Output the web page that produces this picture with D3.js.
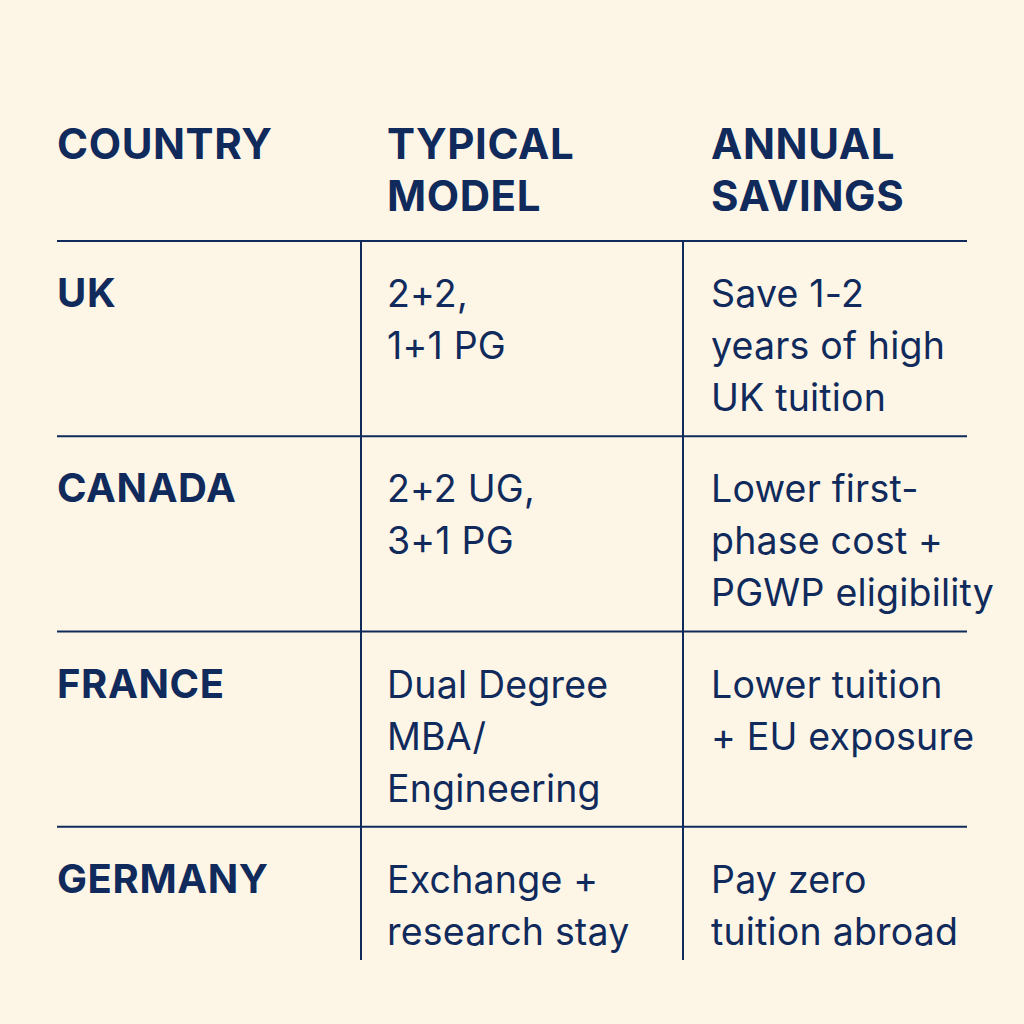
<!DOCTYPE html>
<html lang="en">
<head>
<meta charset="UTF-8">
<title>Twinning models</title>
<script src="https://cdn.jsdelivr.net/npm/d3@7"></script>
<style>
  body { margin: 0; background: #fdf6e7; }
  svg { display: block; }
</style>
</head>
<body>
<div id="chart"></div>
<script>
var headers = [["COUNTRY"], ["TYPICAL", "MODEL"], ["ANNUAL", "SAVINGS"]];
var countries = ["UK", "CANADA", "FRANCE", "GERMANY"];
var models = [["2+2,", "1+1 PG"], ["2+2 UG,", "3+1 PG"], ["Dual Degree", "MBA/", "Engineering"], ["Exchange +", "research stay"]];
var savings = [["Save 1-2", "years of high", "UK tuition"], ["Lower first-", "phase cost +", "PGWP eligibility"], ["Lower tuition", "+ EU exposure"], ["Pay zero", "tuition abroad"]];

var W = 1024, H = 1024, ink = "#102a5c";
var svg = d3.select("#chart").append("svg").attr("width", W).attr("height", H);
svg.append("rect").attr("width", W).attr("height", H).attr("fill", "#fdf6e7");

var colX = d3.scaleOrdinal().domain([0, 1, 2]).range([57, 387, 711]);
var rowY = d3.scaleBand().domain(d3.range(countries.length)).range([241, 1022]);
var lineH = 52;

// header
headers.forEach(function(h, c) {
  var t = svg.append("text").attr("x", colX(c)).attr("y", 159)
    .attr("font-family", "Inter, sans-serif").attr("font-weight", 700)
    .attr("font-size", 42).attr("letter-spacing", 0.6).attr("fill", ink);
  h.forEach(function(s, i) { t.append("tspan").attr("x", colX(c)).attr("dy", i ? lineH : 0).text(s); });
});

// horizontal rules
svg.selectAll("line.h").data(d3.range(countries.length)).enter().append("line")
  .attr("x1", 57).attr("x2", 967)
  .attr("y1", function(d) { return rowY(d); }).attr("y2", function(d) { return rowY(d); })
  .attr("stroke", ink).attr("stroke-width", 2);

// vertical rules
svg.selectAll("line.v").data([361, 683]).enter().append("line")
  .attr("x1", function(d) { return d; }).attr("x2", function(d) { return d; })
  .attr("y1", 241).attr("y2", 960).attr("stroke", ink).attr("stroke-width", 2);

function cell(lines, c, r, bold) {
  var t = svg.append("text").attr("x", colX(c)).attr("y", rowY(r) + 66)
    .attr("font-family", "Inter, sans-serif").attr("font-weight", bold ? 700 : 400)
    .attr("font-size", bold ? 40 : 37.5).attr("letter-spacing", bold ? 0.6 : 0.2).attr("fill", ink);
  lines.forEach(function(s, i) { t.append("tspan").attr("x", colX(c)).attr("dy", i ? lineH : 0).text(s); });
}
countries.forEach(function(d, r) {
  cell([d], 0, r, true);
  cell(models[r], 1, r, false);
  cell(savings[r], 2, r, false);
});
</script>
</body>
</html>
